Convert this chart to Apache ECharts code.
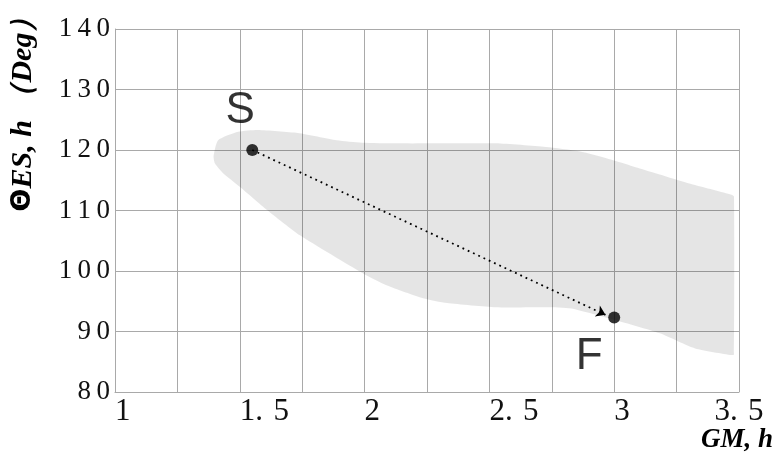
<!DOCTYPE html>
<html><head><meta charset="utf-8">
<script src="https://cdn.jsdelivr.net/npm/echarts@6/dist/echarts.min.js"></script>
<style>html,body{margin:0;padding:0;background:#fff}#c{width:776px;height:462px}</style>
</head><body><div id="c"></div>
<script>
// Axis ranges / ticks
const xMin = 1, xMax = 3.5, xInterval = 0.5;
const yMin = 80, yMax = 140, yInterval = 10;

// Shaded region outline (GM, ΘES), clockwise from the left tip
const regionX = [1.395, 1.413, 1.493, 1.573, 1.733, 1.889, 1.990, 2.130, 2.330, 2.526, 2.727, 2.860, 2.990, 3.123, 3.324, 3.470, 3.480,
                 3.480, 3.470, 3.324, 3.183, 3.003, 2.827, 2.727, 2.526, 2.330, 2.234, 2.090, 1.994, 1.741, 1.609, 1.501, 1.430, 1.400];
const regionY = [119.0, 121.6, 123.0, 123.3, 122.8, 121.6, 121.2, 121.1, 121.1, 121.1, 120.5, 119.8, 118.4, 116.7, 114.2, 112.6, 112.3,
                 86.2, 86.1, 87.2, 89.7, 91.9, 93.8, 94.0, 94.0, 94.7, 95.5, 97.6, 99.6, 105.9, 110.1, 113.9, 116.3, 117.8];

// Start / finish points
const pointNames = ['S', 'F'];
const pointX = [1.55, 3.0];
const pointY = [120, 92.3];
// arrow tip (stops just before F)
const arrowTip = [2.965, 92.75];

const chart = echarts.init(document.getElementById('c'), null, {renderer: 'canvas'});
const gridColor = '#a9a9a9';
const spaced = s => String(s).split('').join('\u2009');

chart.setOption({
  animation: false,
  backgroundColor: '#fff',
  grid: {left: 115, right: 37, top: 29, bottom: 70, containLabel: false},
  xAxis: {
    type: 'value', min: xMin, max: xMax, interval: xInterval,
    axisLine: {show: true, lineStyle: {color: gridColor, width: 1}},
    axisTick: {show: false},
    splitLine: {show: true, lineStyle: {color: gridColor, width: 1}},
    minorTick: {show: false, splitNumber: 2},
    minorSplitLine: {show: true, lineStyle: {color: gridColor, width: 1}},
    axisLabel: {
      fontFamily: '"Liberation Serif", serif', fontSize: 31, color: '#111',
      align: 'left', margin: 4, alignMaxLabel: 'center',
      formatter: v => String(v).replace('.', '.\u2004')
    }
  },
  yAxis: {
    type: 'value', min: yMin, max: yMax, interval: yInterval,
    axisLine: {show: true, lineStyle: {color: gridColor, width: 1}},
    axisTick: {show: false},
    splitLine: {show: true, lineStyle: {color: gridColor, width: 1}},
    axisLabel: {
      fontFamily: '"Liberation Serif", serif', fontSize: 27, color: '#111',
      margin: 5, formatter: v => spaced(v)
    }
  },
  graphic: [
    {type: 'text', x: 23, y: 107, rotation: Math.PI / 2,
     style: {text: '{a|Θ}{b|ES, h （Deg）}', textAlign: 'center', textVerticalAlign: 'middle',
       rich: {
         a: {fontFamily: '"DejaVu Sans", sans-serif', fontWeight: 'bold', fontSize: 27, fill: '#000'},
         b: {fontFamily: '"Liberation Serif", serif', fontWeight: 'bold', fontStyle: 'italic', fontSize: 30, fill: '#000'}
       }}},
    {type: 'text', x: 773, y: 440,
     style: {text: 'GM, h', font: 'italic bold 27px "Liberation Serif", serif', textAlign: 'right', textVerticalAlign: 'middle', fill: '#000'}}
  ],
  series: [
    {
      type: 'custom', coordinateSystem: 'cartesian2d', silent: true, z: 1,
      data: [[regionX[0], regionY[0]]],
      renderItem: function (params, api) {
        const pts = regionX.map((x, i) => api.coord([x, regionY[i]]));
        return {type: 'polygon', shape: {points: pts, smooth: 0.2},
                style: {fill: 'rgba(0,0,0,0.1)', stroke: null}};
      }
    },
    {
      type: 'lines', coordinateSystem: 'cartesian2d', z: 3,
      data: [{coords: [[pointX[0], pointY[0]], arrowTip]}],
      symbol: ['none', 'arrow'], symbolSize: [0, 9],
      lineStyle: {color: '#000', width: 1.8, type: [1.8, 4], opacity: 1, curveness: 0}
    },
    {
      type: 'scatter', z: 4, symbol: 'circle', symbolSize: 12,
      itemStyle: {color: '#000'},
      data: pointNames.map((n, i) => ({
        value: [pointX[i], pointY[i]], name: n,
        label: {show: true, formatter: '{b}', position: 'inside',
          offset: i === 0 ? [-12, -39] : [-25, 39],
          fontFamily: '"Liberation Sans", Arial, sans-serif', fontSize: 44, color: '#000'}
      }))
    }
  ]
});
</script></body></html>
